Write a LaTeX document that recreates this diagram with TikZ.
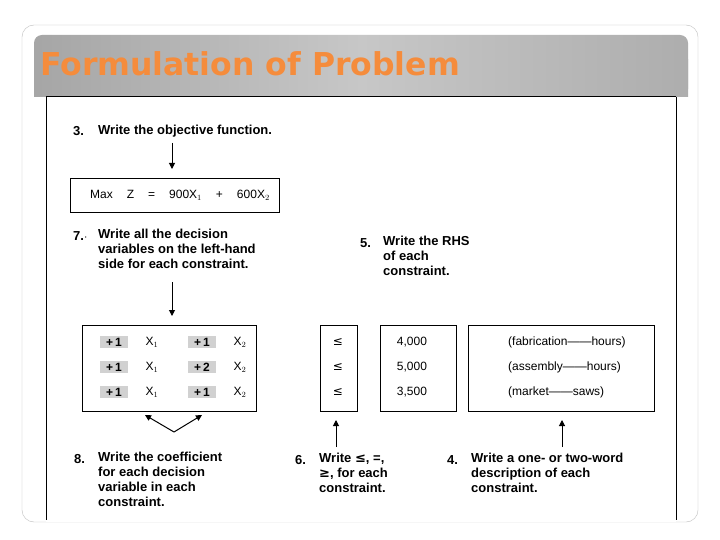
\documentclass[tikz,border=0pt]{standalone}
\usepackage{fontspec}
\setmainfont{Liberation Sans}
\newfontfamily\titlefont{DejaVu Sans}
\newfontfamily\dv{DejaVu Sans}
\usetikzlibrary{arrows.meta}
\definecolor{ttl}{RGB}{245,140,60}
\begin{document}
\begin{tikzpicture}[x=1pt,y=-1pt,
  lbl/.style={anchor=west,font=\bfseries\fontsize{13}{15}\selectfont,inner sep=0},
  num/.style={anchor=west,font=\bfseries\fontsize{13}{15}\selectfont,inner sep=0},
  bx/.style={draw,line width=1.3pt},
  arr/.style={-{Triangle[length=6pt,width=6pt]},line width=1pt},
  cell/.style={font=\fontsize{12}{14}\selectfont,inner sep=0},
  coef/.style={fill=black!18,font=\bfseries\fontsize{12}{13}\selectfont,inner sep=2pt,minimum width=28pt}]
\useasboundingbox (0,0) rectangle (720,540);
\fill[white] (0,0) rectangle (720,540);
\draw[black!25,rounded corners=12pt] (22,25) rectangle (698,522);
\shade[left color=black!35,right color=black!32,middle color=black!22,rounded corners=8pt] (34,35) rectangle (688,97);
\shade[left color=black!35,right color=black!32,middle color=black!22] (34,60) rectangle (688,97);
\node[anchor=west,inner sep=0,font=\titlefont\bfseries\fontsize{31.5}{34}\selectfont,text=ttl] (title) at (40,64) {Formulation of Problem};
\fill[white] (46,97) rectangle (676,522);
\draw[line width=1pt] (46,97) -- (46,520) (676,97) -- (676,520);
\draw[line width=1pt] (46,97) -- (676,97);
% step 3
\node[num] (n3) at (73,131) {3.};
\node[lbl] (t3) at (98,131) {Write the objective function.};
\node[bx,minimum width=209pt,minimum height=34pt,anchor=north west,inner sep=0] (obj) at (70,178) {};
\node[cell,anchor=west] (objt) at (90,195) {Max\quad\,Z\quad\,=\quad\,900X$_1$\quad\,+\quad\,600X$_2$};
\coordinate (a3) at (172,143);
\draw[arr] (a3) -- (172,169);
% step 7
\node[num] (n7) at (73,236) {7.$\cdot$};
\node[lbl,align=left,anchor=north west] (t7) at (98,229) {Write all the decision\\variables on the left-hand\\side for each constraint.};
\coordinate (a7) at (172,282);
\draw[arr] (a7) -- (172,316);
% matrix
\node[bx,minimum width=174pt,minimum height=86pt,anchor=north west,inner sep=0] (mat) at (82,325) {};
\foreach \y/\a/\b in {342/1/1,367/1/2,392/1/1}{
  \node[coef] (ca\y) at (114,\y) {+\,\a};
  \node[cell] (xa\y) at (152,\y) {X$_1$};
  \node[coef] (cb\y) at (202,\y) {+\,\b};
  \node[cell] (xb\y) at (240,\y) {X$_2$};
}
% step 5
\node[num] (n5) at (360,243) {5.};
\node[lbl,align=left,anchor=north west] (t5) at (383,236) {Write the RHS\\of each\\constraint.};
% le box
\node[bx,minimum width=37pt,minimum height=86pt,anchor=north west,inner sep=0] (le) at (320,325) {};
\foreach \y in {342,367,392}{\node[cell,font=\dv\fontsize{12}{13}\selectfont] (l\y) at (338,\y) {≤};}
% rhs
\node[bx,minimum width=76pt,minimum height=86pt,anchor=north west,inner sep=0] (rhs) at (380,325) {};
\node[cell] (r1) at (412,342) {4,000};
\node[cell] (r2) at (412,367) {5,000};
\node[cell] (r3) at (412,392) {3,500};
% desc
\node[bx,minimum width=186pt,minimum height=86pt,anchor=north west,inner sep=0] (desc) at (468,325) {};
\node[cell,anchor=west] (d1) at (508,342) {(fabrication——hours)};
\node[cell,anchor=west] (d2) at (508,367) {(assembly——hours)};
\node[cell,anchor=west] (d3) at (508,392) {(market——saws)};
% bottom arrows
\coordinate (v) at (174,432);
\draw[arr] (v) -- (145,415);
\draw[arr] (v) -- (202,415);
\coordinate (a6) at (336,447);
\draw[arr] (a6) -- (336,420);
\coordinate (a4) at (562,447);
\draw[arr] (a4) -- (562,420);
% step 8
\node[num] (n8) at (74,459) {8.};
\node[lbl,align=left,anchor=north west] (t8) at (98,452) {Write the coefficient\\for each decision\\variable in each\\constraint.};
\node[num] (n6) at (295,460) {6.};
\node[lbl,align=left,anchor=north west] (t6) at (319,453) {Write {\dv≤}, =,\\{\dv≥}, for each\\constraint.};
\node[num] (n4) at (447,460) {4.};
\node[lbl,align=left,anchor=north west] (t4) at (471,453) {Write a one- or two-word\\description of each\\constraint.};
\end{tikzpicture}
\end{document}
